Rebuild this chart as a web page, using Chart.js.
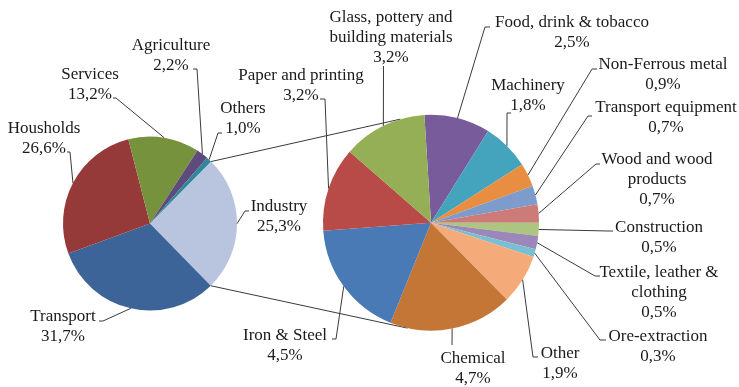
<!DOCTYPE html>
<html>
<head>
<meta charset="utf-8">
<script src="https://cdn.jsdelivr.net/npm/chart.js@4/dist/chart.umd.min.js"></script>
<style>
  html, body { margin: 0; padding: 0; background: #fff; }
  #wrap { position: relative; width: 739px; height: 387px; }
  #wrap canvas { position: absolute; left: 0; top: 0; }
</style>
</head>
<body>
<div id="wrap">
  <canvas id="mainPie" width="739" height="387"></canvas>
  <canvas id="industryPie" width="739" height="387"></canvas>
</div>
<script>
// Final energy consumption by sector (%), and the split of the industry share
const mainCategories = ['Industry', 'Transport', 'Housholds', 'Services', 'Agriculture', 'Others'];
const mainShares = [25.3, 31.7, 26.6, 13.2, 2.2, 1.0];

const industryCategories = [
  'Food, drink & tobacco', 'Machinery', 'Non-Ferrous metal', 'Transport equipment',
  'Wood and wood\nproducts', 'Construction', 'Textile, leather &\nclothing', 'Ore-extraction',
  'Other', 'Chemical', 'Iron & Steel', 'Paper and printing', 'Glass, pottery and\nbuilding materials'
];
const industryShares = [2.5, 1.8, 0.9, 0.7, 0.7, 0.5, 0.5, 0.3, 1.9, 4.7, 4.5, 3.2, 3.2];

// ---- styling ----
const mainColors = ['#B9C5DF', '#3D6498', '#953A39', '#76923D', '#5E4A7C', '#31869B'];
const industryColors = ['#775B9A', '#45A4BD', '#E98D40', '#7D9CCB', '#CD7B79', '#ADC67F',
  '#9C88B8', '#78BFD2', '#F5AA79', '#C37636', '#4A7AB6', '#B84A47', '#94AF55'];

const W = 739, H = 387;
const FONT = '17px "Liberation Serif", "Times New Roman", serif';
const LINE_H = 20;
const TEXT_COLOR = '#1a1a1a';
const LINE_COLOR = '#3a3a3a';

// label placement: text centre x, first baseline y, and leader points before the slice edge
const mainLabelLayout = [
  { x: 279, y: 211, leader: [[249, 211], [245, 211]] },   // Industry
  { x: 63,  y: 321, leader: [[99, 321], [103, 321]] },    // Transport
  { x: 44,  y: 133, leader: [[67, 152], [70, 152]] },     // Housholds
  { x: 90,  y: 79,  leader: [[113, 98], [116, 98]] },     // Services
  { x: 171, y: 50,  leader: [[193, 69], [197, 69]] },     // Agriculture
  { x: 243, y: 113, leader: [[222, 133], [218, 133]] }    // Others
];
const industryLabelLayout = [
  { x: 572, y: 27,  leader: [[490, 27], [485, 27]] },     // Food
  { x: 528, y: 90,  leader: [[511, 113], [507, 113]] },   // Machinery
  { x: 663, y: 69,  leader: [[597, 69], [592, 69]] },     // Non-Ferrous
  { x: 666, y: 112, leader: [[592, 116], [588, 116]] },   // Transport equipment
  { x: 657, y: 164, leader: [[600, 164], [596, 164]] },   // Wood
  { x: 659, y: 232, leader: [[613, 231], [608, 231]] },   // Construction
  { x: 659, y: 277, leader: [[600, 276], [595, 276]] },   // Textile
  { x: 658, y: 341, leader: [[606, 340], [600, 340]] },   // Ore-extraction
  { x: 560, y: 358, leader: [[538, 357], [533, 357]] },   // Other
  { x: 473, y: 363, leader: [[452, 345]] },               // Chemical
  { x: 285, y: 340, leader: [[332, 339], [336, 339]] },   // Iron & Steel
  { x: 301, y: 80,  leader: [[320, 99], [325, 99]] },     // Paper
  { x: 391, y: 22,  leader: [[383.5, 66]] }               // Glass
];

// pie geometry: centre and radius
const mainGeom = { cx: 150, cy: 223.5, r: 87, rotation: 44.6 };
const industryGeom = { cx: 431, cy: 222.7, r: 108, rotation: -3.5 };
// where the bracket lines meet the secondary pie (degrees clockwise from top)
const bracketAngles = [-16.5, 192.6];

function fmt(v) { return v.toFixed(1).replace('.', ',') + '%'; }

function paddingFor(g) {
  return { left: g.cx - g.r, top: g.cy - g.r, right: W - (g.cx + g.r), bottom: H - (g.cy + g.r) };
}

function edgePoint(arc) {
  const p = arc.getProps(['x', 'y', 'startAngle', 'endAngle', 'outerRadius'], true);
  const mid = (p.startAngle + p.endAngle) / 2;
  return [p.x + Math.cos(mid) * p.outerRadius, p.y + Math.sin(mid) * p.outerRadius];
}

function labelPlugin(categories, values, layout) {
  return {
    id: 'sliceLabels',
    afterDatasetsDraw(chart) {
      const ctx = chart.ctx;
      const meta = chart.getDatasetMeta(0);
      ctx.save();
      ctx.strokeStyle = LINE_COLOR;
      ctx.lineWidth = 1;
      layout.forEach((L, i) => {
        const end = edgePoint(meta.data[i]);
        ctx.beginPath();
        ctx.moveTo(L.leader[0][0], L.leader[0][1]);
        for (let k = 1; k < L.leader.length; k++) ctx.lineTo(L.leader[k][0], L.leader[k][1]);
        ctx.lineTo(end[0], end[1]);
        ctx.stroke();
      });
      ctx.fillStyle = TEXT_COLOR;
      ctx.font = FONT;
      ctx.textAlign = 'center';
      ctx.textBaseline = 'alphabetic';
      layout.forEach((L, i) => {
        const lines = categories[i].split('\n').concat([fmt(values[i])]);
        lines.forEach((t, k) => ctx.fillText(t, L.x, L.y + k * LINE_H));
      });
      ctx.restore();
    }
  };
}

function pieOptions(g) {
  return {
    responsive: false,
    animation: false,
    rotation: g.rotation,
    layout: { padding: paddingFor(g) },
    plugins: { legend: { display: false }, tooltip: { enabled: false } },
    elements: { arc: { borderWidth: 0 } }
  };
}

function build() {
  const mainChart = new Chart(document.getElementById('mainPie'), {
    type: 'pie',
    data: {
      labels: mainCategories,
      datasets: [{ data: mainShares, backgroundColor: mainColors, borderWidth: 0 }]
    },
    options: pieOptions(mainGeom),
    plugins: [labelPlugin(mainCategories, mainShares, mainLabelLayout)]
  });

  // lines joining the industry slice to the breakdown pie
  const bracketPlugin = {
    id: 'bracket',
    beforeDatasetsDraw(chart) {
      const ind = mainChart.getDatasetMeta(0).data[0]
        .getProps(['x', 'y', 'startAngle', 'endAngle', 'outerRadius'], true);
      const sec = chart.getDatasetMeta(0).data[0].getProps(['x', 'y', 'outerRadius'], true);
      const froms = [ind.startAngle, ind.endAngle];
      const ctx = chart.ctx;
      ctx.save();
      ctx.strokeStyle = LINE_COLOR;
      ctx.lineWidth = 1;
      froms.forEach((a, k) => {
        const b = (bracketAngles[k] - 90) * Math.PI / 180;
        ctx.beginPath();
        ctx.moveTo(ind.x + Math.cos(a) * ind.outerRadius, ind.y + Math.sin(a) * ind.outerRadius);
        ctx.lineTo(sec.x + Math.cos(b) * sec.outerRadius, sec.y + Math.sin(b) * sec.outerRadius);
        ctx.stroke();
      });
      ctx.restore();
    }
  };

  new Chart(document.getElementById('industryPie'), {
    type: 'pie',
    data: {
      labels: industryCategories,
      datasets: [{ data: industryShares, backgroundColor: industryColors, borderWidth: 0 }]
    },
    options: pieOptions(industryGeom),
    plugins: [bracketPlugin, labelPlugin(industryCategories, industryShares, industryLabelLayout)]
  });
}

if (document.fonts && document.fonts.load) {
  document.fonts.load(FONT).then(build, build);
} else {
  build();
}
</script>
</body>
</html>
